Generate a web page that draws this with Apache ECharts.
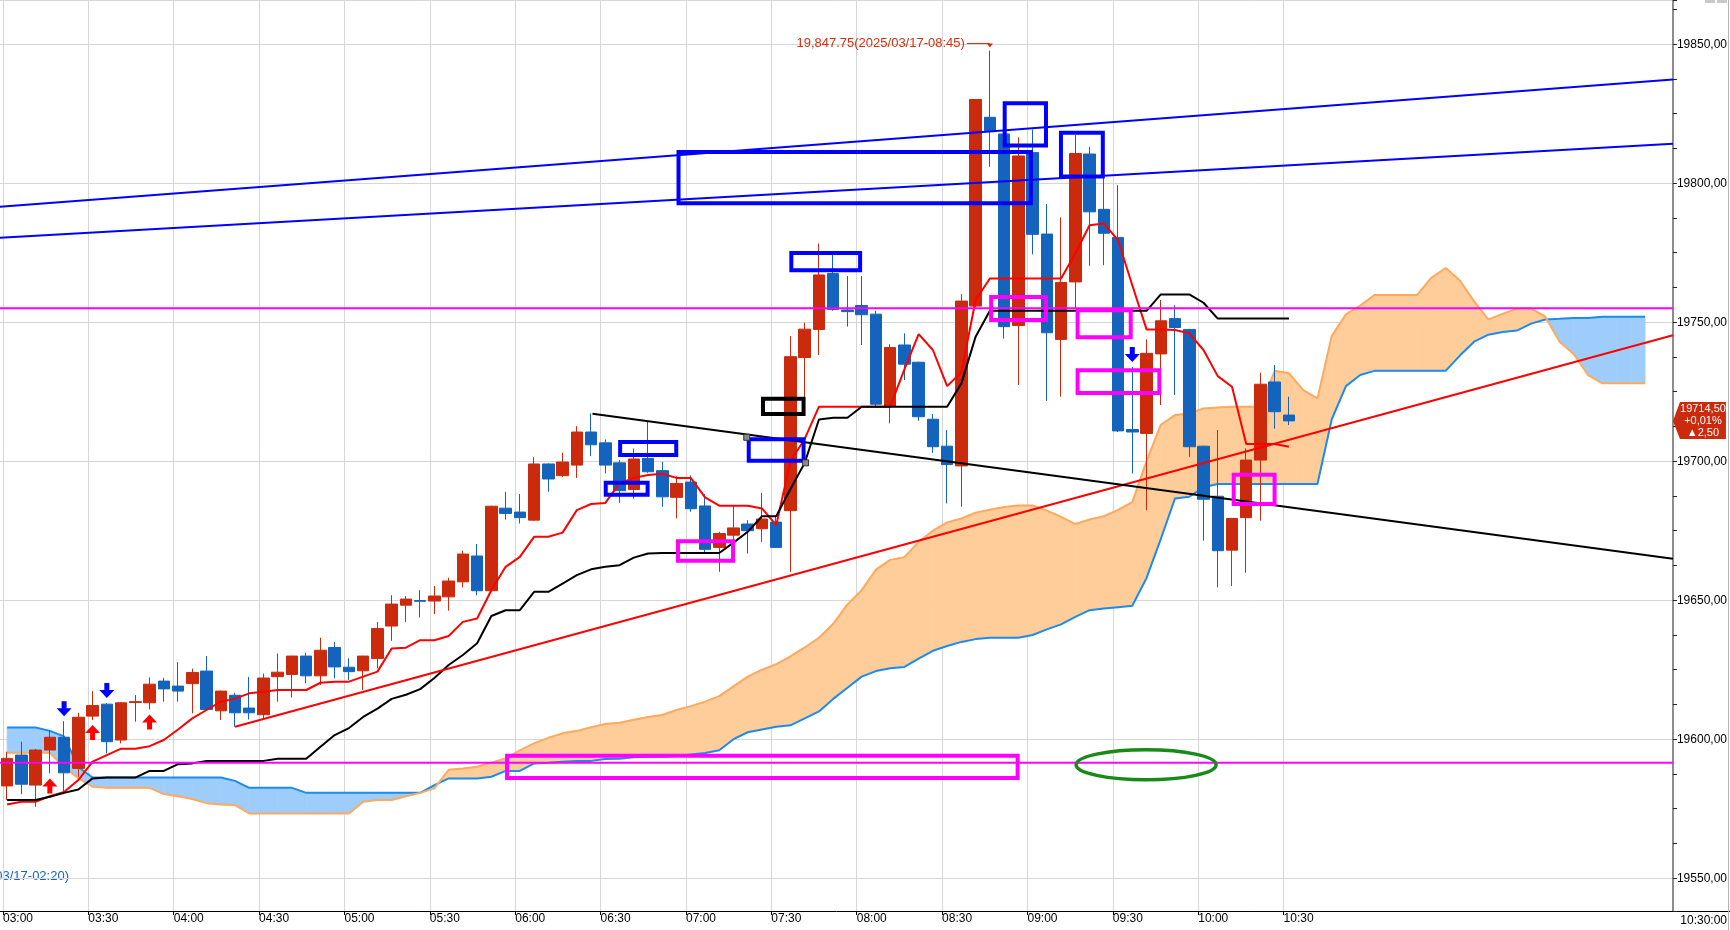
<!DOCTYPE html>
<html>
<head>
<meta charset="utf-8">
<title>5分足 一目均衡表</title>
<script src="https://cdn.jsdelivr.net/npm/echarts@6/dist/echarts.min.js"></script>
<style>
  html, body { margin: 0; padding: 0; background: #fff; }
  #chart { width: 1730px; height: 930px; }
</style>
</head>
<body>
<div id="chart"></div>
<script>
// x value = 5-minute slot counted from 03:00; candle k sits at k + 0.5
var timeLabels = ['03:00', '03:30', '04:00', '04:30', '05:00', '05:30', '06:00', '06:30',
  '07:00', '07:30', '08:00', '08:30', '09:00', '09:30', '10:00', '10:30'];

// [open, close, low, high]
var ohlc = [
  [19583.2, 19593.1, 19578.1, 19595.5], [19594.3, 19583.8, 19580.2, 19599.1], [19583.5, 19596.1, 19575.7, 19596.5],
  [19596.1, 19600.7, 19587.7, 19603.3], [19600.7, 19587.9, 19580.2, 19606.5], [19589.5, 19607.9, 19586.5, 19609.5],
  [19608.3, 19612.1, 19606.9, 19617.3], [19612.6, 19599.1, 19594.9, 19613.0], [19599.7, 19613.1, 19598.5, 19613.3],
  [19613.2, 19613.5, 19606.3, 19615.9], [19613.1, 19619.8, 19610.7, 19622.2], [19620.9, 19618.1, 19613.5, 19622.1],
  [19619.1, 19617.3, 19613.5, 19627.7], [19620.0, 19624.0, 19609.3, 19625.4], [19624.5, 19610.7, 19610.5, 19629.9],
  [19610.2, 19617.3, 19606.9, 19617.5], [19615.8, 19609.5, 19604.5, 19616.7], [19611.2, 19609.5, 19607.1, 19622.4],
  [19608.8, 19622.0, 19607.3, 19623.6], [19622.5, 19624.1, 19613.5, 19630.8], [19623.3, 19629.9, 19615.0, 19630.0],
  [19629.9, 19622.8, 19620.1, 19631.1], [19622.8, 19632.0, 19619.5, 19636.5], [19633.0, 19626.0, 19621.9, 19635.0],
  [19625.9, 19624.3, 19621.3, 19629.1], [19624.6, 19629.9, 19617.7, 19630.0], [19629.0, 19639.8, 19625.5, 19642.2],
  [19640.7, 19648.6, 19635.4, 19651.8], [19648.2, 19650.4, 19642.2, 19651.5], [19649.9, 19649.6, 19643.8, 19653.6],
  [19649.7, 19651.5, 19645.0, 19655.1], [19651.2, 19656.9, 19646.2, 19658.1], [19656.6, 19666.6, 19654.6, 19667.8],
  [19665.9, 19653.4, 19651.8, 19670.2], [19653.4, 19683.8, 19653.2, 19684.0], [19683.1, 19681.2, 19679.0, 19689.0],
  [19681.7, 19679.7, 19677.6, 19688.2], [19678.8, 19699.0, 19678.6, 19701.4], [19699.0, 19693.6, 19689.0, 19699.2],
  [19694.8, 19699.7, 19694.4, 19703.0], [19698.6, 19710.5, 19694.0, 19712.6], [19710.5, 19705.9, 19701.8, 19717.2],
  [19706.6, 19698.6, 19695.6, 19707.8], [19699.4, 19689.4, 19685.0, 19700.4], [19689.8, 19700.8, 19686.6, 19704.6],
  [19701.0, 19696.2, 19695.8, 19714.2], [19696.6, 19687.2, 19683.6, 19699.8], [19687.0, 19692.0, 19679.4, 19694.6],
  [19692.5, 19682.9, 19681.8, 19694.9], [19683.9, 19668.3, 19667.0, 19688.2], [19669.0, 19674.0, 19660.2, 19674.6],
  [19673.4, 19676.0, 19664.7, 19683.9], [19677.4, 19675.0, 19666.8, 19678.8], [19675.7, 19679.2, 19671.0, 19688.6],
  [19678.1, 19669.0, 19668.8, 19680.0], [19682.2, 19737.6, 19660.2, 19745.0], [19737.3, 19747.5, 19722.0, 19749.8],
  [19747.4, 19767.0, 19738.2, 19778.3], [19767.5, 19754.6, 19754.1, 19774.7], [19754.4, 19753.8, 19748.4, 19766.6],
  [19756.0, 19752.7, 19741.8, 19766.6], [19752.9, 19720.5, 19719.6, 19754.1], [19719.8, 19740.9, 19713.6, 19742.1],
  [19741.8, 19734.9, 19729.2, 19746.0], [19735.6, 19716.0, 19714.5, 19735.8], [19715.1, 19705.2, 19703.0, 19717.0],
  [19705.4, 19698.8, 19684.8, 19711.2], [19698.3, 19757.6, 19683.6, 19760.1], [19755.8, 19830.1, 19755.5, 19830.3],
  [19823.7, 19818.9, 19805.9, 19847.75], [19817.7, 19748.4, 19744.1, 19818.0], [19748.8, 19809.8, 19727.4, 19816.5],
  [19811.0, 19781.6, 19774.4, 19819.3], [19781.7, 19746.2, 19721.7, 19792.5], [19743.8, 19764.3, 19723.2, 19787.7],
  [19764.5, 19810.7, 19755.0, 19817.3], [19810.5, 19789.7, 19770.3, 19813.1], [19790.6, 19782.0, 19770.5, 19804.7],
  [19780.5, 19710.9, 19710.5, 19799.3], [19711.4, 19710.5, 19695.6, 19733.9], [19710.0, 19738.8, 19682.4, 19743.8],
  [19738.6, 19750.5, 19720.2, 19758.0], [19751.3, 19748.1, 19723.8, 19756.1], [19747.4, 19705.2, 19701.6, 19747.6],
  [19705.4, 19686.3, 19671.4, 19705.6], [19687.4, 19667.8, 19654.6, 19711.2], [19668.0, 19679.4, 19655.1, 19679.6],
  [19679.7, 19700.4, 19659.9, 19704.6], [19700.4, 19727.7, 19678.6, 19731.8], [19728.5, 19717.8, 19711.7, 19734.6],
  [19716.6, 19714.5, 19713.0, 19723.2]
];

var tenkan = [
  19576.5, 19577.5, 19577.5, 19579.5, 19581.0, 19585.3, 19591.9, 19594.3, 19596.6, 19596.6,
  19597.5, 19599.7, 19603.5, 19607.5, 19610.5, 19613.5, 19614.6, 19616.5, 19617.1, 19617.7,
  19617.7, 19617.7, 19620.3, 19620.7, 19620.7, 19622.5, 19624.3, 19632.6, 19632.9, 19635.6,
  19635.6, 19637.1, 19642.2, 19643.4, 19653.6, 19662.0, 19665.6, 19672.8, 19672.8, 19674.3,
  19682.4, 19684.6, 19685.0, 19692.0, 19694.0, 19695.0, 19695.5, 19694.0, 19694.0, 19687.0,
  19684.0, 19684.0, 19684.0, 19683.0, 19677.0, 19700.0, 19708.0, 19719.6, 19719.6, 19719.6,
  19719.6, 19719.6, 19719.6, 19733.0, 19745.7, 19740.0, 19727.0, 19732.0, 19758.0, 19765.7,
  19765.7, 19765.7, 19765.7, 19765.7, 19765.7, 19774.7, 19784.9, 19785.5, 19779.5, 19763.3,
  19747.4, 19747.4, 19747.2, 19746.0, 19740.0, 19730.6, 19726.8, 19706.2, 19706.2, 19706.2,
  19705.2
];

var kijun = [
  19578.1, 19578.1, 19578.1, 19579.3, 19580.7, 19581.9, 19585.9, 19586.2, 19586.2, 19586.2,
  19588.6, 19588.6, 19591.0, 19591.3, 19592.2, 19592.2, 19592.2, 19592.2, 19592.2, 19593.0,
  19593.0, 19593.0, 19597.3, 19601.5, 19604.0, 19608.0, 19611.0, 19614.5, 19616.0, 19618.0,
  19622.0, 19626.7, 19630.3, 19634.5, 19644.3, 19646.4, 19646.4, 19653.0, 19653.0, 19656.0,
  19659.0, 19661.1, 19662.0, 19662.6, 19665.3, 19666.8, 19667.0, 19667.0, 19667.0, 19667.0,
  19667.0, 19670.7, 19674.6, 19680.2, 19680.2, 19690.0, 19699.4, 19715.0, 19715.6, 19715.6,
  19719.6, 19719.6, 19719.6, 19719.6, 19719.6, 19719.6, 19719.6, 19728.0, 19744.8, 19754.1,
  19754.1, 19754.1, 19754.1, 19754.1, 19754.1, 19754.1, 19754.1, 19754.1, 19754.1, 19754.1,
  19754.1, 19760.0, 19760.0, 19760.0, 19757.0, 19751.3, 19751.3, 19751.3, 19751.3, 19751.3,
  19751.3
];

// leading spans, already shifted forward (index = slot)
var senkouA = [
  19604.2, 19604.2, 19604.2, 19603.0, 19601.0, 19590.0, 19586.2, 19586.2, 19586.2, 19586.2,
  19586.2, 19586.2, 19586.2, 19586.2, 19586.2, 19586.2, 19585.0, 19582.5, 19582.5, 19582.5,
  19582.5, 19580.7, 19580.7, 19580.7, 19580.7, 19580.7, 19580.7, 19580.7, 19580.7, 19580.7,
  19583.5, 19585.9, 19585.9, 19585.9, 19586.5, 19588.6, 19588.6, 19591.3, 19591.5, 19591.9,
  19592.2, 19592.2, 19592.9, 19593.0, 19593.5, 19593.7, 19593.7, 19594.0, 19594.5, 19595.0,
  19596.0, 19600.0, 19602.5, 19603.5, 19604.5, 19605.0, 19607.5, 19610.0, 19614.5, 19618.5,
  19622.5, 19624.5, 19625.5, 19626.0, 19629.0, 19631.8, 19633.5, 19635.0, 19636.0, 19636.5,
  19636.5, 19636.5, 19637.5, 19639.5, 19641.3, 19644.0, 19646.4, 19647.0, 19647.5, 19648.0,
  19658.0, 19672.0, 19686.6, 19687.2, 19690.6, 19691.8, 19691.8, 19691.8, 19691.8, 19691.8,
  19691.8, 19691.8, 19691.8, 19715.0, 19727.0, 19731.0, 19732.5, 19732.5, 19732.5, 19732.5,
  19732.5, 19732.5, 19738.0, 19743.0, 19745.5, 19746.5, 19747.0, 19749.5, 19751.0, 19751.2,
  19751.5, 19751.5, 19752.0, 19752.0, 19752.0, 19752.0
];

var senkouB = [
  19595.1, 19595.1, 19595.1, 19595.1, 19590.0, 19586.0, 19582.9, 19582.5, 19582.5, 19582.5,
  19582.5, 19580.3, 19579.5, 19578.5, 19577.0, 19576.5, 19576.3, 19573.3, 19573.3, 19573.3,
  19573.3, 19573.3, 19573.3, 19573.3, 19573.3, 19577.5, 19578.1, 19578.1, 19579.5, 19580.7,
  19582.3, 19589.0, 19589.5, 19590.1, 19591.5, 19593.1, 19596.0, 19598.5, 19600.5, 19602.1,
  19603.0, 19604.3, 19605.5, 19605.9, 19607.0, 19608.0, 19608.7, 19610.5, 19611.9, 19613.5,
  19615.5, 19619.0, 19622.5, 19625.0, 19627.0, 19629.8, 19633.0, 19636.5, 19641.5, 19648.5,
  19653.6, 19661.0, 19664.5, 19665.5, 19671.0, 19675.0, 19678.0, 19679.4, 19681.5, 19682.5,
  19683.5, 19684.1, 19684.1, 19682.2, 19680.0, 19677.4, 19679.0, 19680.2, 19682.5, 19685.3,
  19700.0, 19713.1, 19716.6, 19717.2, 19719.0, 19719.3, 19719.6, 19719.6, 19719.6, 19732.5,
  19731.6, 19725.6, 19722.6, 19745.0, 19752.8, 19756.0, 19759.8, 19759.8, 19759.8, 19759.8,
  19766.0, 19769.5, 19765.0, 19757.5, 19751.0, 19753.0, 19754.9, 19754.9, 19752.0, 19743.0,
  19738.5, 19731.0, 19728.0, 19728.0, 19728.0, 19728.0
];

var buySignals = [3, 6, 10];
var sellSignals = [4, 7, 79];

var highBar = 69;
var highLabel = '19,847.75(2025/03/17-08:45)';
var lowLabel = '19,571.50(2025/03/17-02:20)';
var tagLines = ['19714,50', '+0,01%', '\u25B22,50'];
var clockLabel = '10:30:00';

// hand drawn objects, end points as [slot, price]
var blueChannel = [
  [[0, 19791.5], [117.46, 19837.3]],
  [[0, 19780.4], [117.46, 19814.2]]
];
var redTrend = [[16.5, 19604.5], [117.46, 19745.3]];
var blackTrend = [[41.6, 19717.1], [117.46, 19664.9]];
var magentaLevels = [19755.0, 19591.5];

// boxes [slotLeft, priceTop, slotRight, priceBottom]
var blueBoxes = [
  [47.50, 19811.9, 72.52, 19792.05],
  [70.40, 19829.5, 73.58, 19812.8],
  [74.35, 19818.85, 77.57, 19801.7],
  [55.42, 19775.6, 60.53, 19768.0],
  [43.40, 19707.6, 47.62, 19701.5],
  [42.39, 19692.95, 45.61, 19687.2],
  [52.43, 19708.6, 56.56, 19699.4]
];
var magentaBoxes = [
  [35.46, 19594.8, 71.59, 19585.3],
  [47.46, 19671.9, 51.61, 19663.5],
  [69.45, 19759.75, 73.58, 19750.1],
  [75.52, 19755.0, 79.53, 19743.9],
  [75.52, 19733.4, 81.54, 19723.8],
  [86.48, 19695.8, 89.63, 19683.85]
];
var blackBoxes = [[53.43, 19723.2, 56.56, 19716.3]];
var selectedBox = 6;   // blueBoxes entry shown with its handles
// ellipse [slotCenter, priceCenter, halfWidthSlots, halfHeightPrice]
var greenEllipses = [[80.47, 19590.8, 5.02, 5.94]];

var X_MAX = 117.46;
var Y_MIN = 19538.2, Y_MAX = 19865.9;
var FONT = "'Liberation Sans', Arial, sans-serif";
var UP = '#cc2a0c', DOWN = '#1464be';

function slotSeries(arr) {
  return arr.map(function (v, i) { return [i + 0.5, v]; });
}

function renderCloud(params, api) {
  var x0 = api.value(0), a0 = api.value(1), b0 = api.value(2);
  var x1 = api.value(3), a1 = api.value(4), b1 = api.value(5);
  var pa0 = api.coord([x0, a0]), pb0 = api.coord([x0, b0]);
  var pa1 = api.coord([x1, a1]), pb1 = api.coord([x1, b1]);
  var d0 = a0 - b0, d1 = a1 - b1;
  function poly(pts, up) {
    var c = up ? '#9fcdfb' : '#ffcd9a';
    return { type: 'polygon', shape: { points: pts }, style: { fill: c, stroke: c, lineWidth: 0.8 } };
  }
  var kids = [];
  if (d0 * d1 < 0) {
    var t = d0 / (d0 - d1);
    var pc = api.coord([x0 + t * (x1 - x0), a0 + t * (a1 - a0)]);
    kids.push(poly([pa0, pc, pb0], d0 > 0));
    kids.push(poly([pc, pa1, pb1], d1 > 0));
  } else {
    kids.push(poly([pa0, pa1, pb1, pb0], d0 + d1 > 0));
  }
  return { type: 'group', children: kids };
}

function boxRenderer(color, lw) {
  return function (params, api) {
    var a = api.coord([api.value(0), api.value(1)]);
    var b = api.coord([api.value(2), api.value(3)]);
    var h = lw / 2;
    return {
      type: 'rect',
      shape: { x: a[0] + h, y: a[1] + h, width: b[0] - a[0] - lw, height: b[1] - a[1] - lw },
      style: { fill: 'none', stroke: color, lineWidth: lw }
    };
  };
}

function renderHandles(params, api) {
  var a = api.coord([api.value(0), api.value(1)]);
  var b = api.coord([api.value(2), api.value(3)]);
  var st = { fill: '#8a8a8a', stroke: '#333', lineWidth: 1 };
  return { type: 'group', children: [
    { type: 'rect', shape: { x: a[0] - 3, y: a[1] - 3, width: 6, height: 6 }, style: st },
    { type: 'rect', shape: { x: b[0] - 3, y: b[1] - 3, width: 6, height: 6 }, style: st }
  ] };
}

function renderEllipse(params, api) {
  var c = api.coord([api.value(0), api.value(1)]);
  var e = api.coord([api.value(0) + api.value(2), api.value(1) + api.value(3)]);
  return {
    type: 'ellipse',
    shape: { cx: c[0], cy: c[1], rx: Math.abs(e[0] - c[0]) - 1.5, ry: Math.abs(c[1] - e[1]) - 1.5 },
    style: { fill: 'none', stroke: '#178a17', lineWidth: 3.5 }
  };
}

function arrowRenderer(dir, color) {
  return function (params, api) {
    var p = api.coord([api.value(0), api.value(1)]);
    var cx = p[0], t = p[1] + dir * 5;
    var pts = [[cx, t], [cx + 7.5, t + dir * 8], [cx + 2.5, t + dir * 8], [cx + 2.5, t + dir * 15],
      [cx - 2.5, t + dir * 15], [cx - 2.5, t + dir * 8], [cx - 7.5, t + dir * 8]];
    return { type: 'polygon', shape: { points: pts }, style: { fill: color } };
  };
}

function renderHighMark(params, api) {
  var p = api.coord([api.value(0), api.value(1)]);
  var y = p[1] - 7, c = '#d0300e';
  return { type: 'group', children: [
    { type: 'line', shape: { x1: p[0] - 23, y1: y, x2: p[0], y2: y }, style: { stroke: c, lineWidth: 1 } },
    { type: 'polygon', shape: { points: [[p[0] - 3, y], [p[0] + 3, y], [p[0], y + 4]] }, style: { fill: c } },
    { type: 'text', x: p[0] - 25, y: y, style: { text: highLabel, fill: c, align: 'right', verticalAlign: 'middle', font: '13px ' + FONT } }
  ] };
}

function renderPriceTag(params, api) {
  var y = api.coord([api.value(0), api.value(1)])[1];
  var x0 = params.coordSys.x + params.coordSys.width;
  var f = '11px ' + FONT;
  var pts = [[x0, y], [x0 + 7, y - 19], [x0 + 53, y - 19], [x0 + 53, y + 18], [x0 + 7, y + 18]];
  return { type: 'group', children: [
    { type: 'polygon', shape: { points: pts }, style: { fill: '#cc2a0c' } },
    { type: 'text', x: x0 + 30, y: y - 12, style: { text: tagLines[0], fill: '#fff', align: 'center', verticalAlign: 'middle', font: f } },
    { type: 'text', x: x0 + 30, y: y, style: { text: tagLines[1], fill: '#fff', align: 'center', verticalAlign: 'middle', font: f } },
    { type: 'text', x: x0 + 30, y: y + 12, style: { text: tagLines[2], fill: '#fff', align: 'center', verticalAlign: 'middle', font: f } }
  ] };
}

function lineSeries(name, data, color, width, z) {
  return {
    name: name, type: 'line', data: data, symbol: 'none', z: z,
    lineStyle: { color: color, width: width }, silent: true
  };
}

var cloudSegs = [];
for (var i = 0; i < senkouA.length - 1; i++) {
  cloudSegs.push([i + 0.5, senkouA[i], senkouB[i], i + 1.5, senkouA[i + 1], senkouB[i + 1]]);
}

var series = [
  { name: 'cloud', type: 'custom', renderItem: renderCloud, data: cloudSegs, z: 1, silent: true,
    encode: { x: [0, 3], y: [1, 2, 4, 5] } },
  lineSeries('先行スパン1', slotSeries(senkouA), '#1a8cf0', 2, 2),
  lineSeries('先行スパン2', slotSeries(senkouB), '#ffa95e', 2, 2),
  {
    name: '5分足', type: 'candlestick', z: 3, barWidth: 12,
    data: ohlc.map(function (r, i) { return [i + 0.5, r[0], r[1], r[2], r[3]]; }),
    encode: { x: 0, y: [1, 2, 3, 4] },
    itemStyle: { color: UP, color0: DOWN, borderColor: UP, borderColor0: DOWN, borderWidth: 1 }
  },
  lineSeries('転換線', slotSeries(tenkan), '#ff0000', 2, 4),
  lineSeries('基準線', slotSeries(kijun), '#000000', 2, 4),
  lineSeries('ch1', blueChannel[0], '#0000ff', 2, 5),
  lineSeries('ch2', blueChannel[1], '#0000ff', 2, 5),
  lineSeries('redTrend', redTrend, '#ff0000', 2, 5),
  lineSeries('blackTrend', blackTrend, '#000000', 2, 5)
];
magentaLevels.forEach(function (p, i) {
  series.push(lineSeries('level' + i, [[0, p], [X_MAX, p]], '#ff00ff', 2, 5));
});
series.push(
  { name: 'blueBoxes', type: 'custom', renderItem: boxRenderer('#0000ff', 4), data: blueBoxes, z: 6, silent: true },
  { name: 'magentaBoxes', type: 'custom', renderItem: boxRenderer('#ff00ff', 4), data: magentaBoxes, z: 6, silent: true },
  { name: 'blackBoxes', type: 'custom', renderItem: boxRenderer('#000000', 4), data: blackBoxes, z: 6, silent: true },
  { name: 'handles', type: 'custom', renderItem: renderHandles, data: [blueBoxes[selectedBox]], z: 7, silent: true },
  { name: 'ellipse', type: 'custom', renderItem: renderEllipse, data: greenEllipses, z: 6, silent: true },
  { name: 'buy', type: 'custom', renderItem: arrowRenderer(1, '#ff0000'), z: 7, silent: true,
    data: buySignals.map(function (k) { return [k + 0.5, ohlc[k][2]]; }) },
  { name: 'sell', type: 'custom', renderItem: arrowRenderer(-1, '#0000ff'), z: 7, silent: true,
    data: sellSignals.map(function (k) { return [k + 0.5, ohlc[k][3]]; }) },
  { name: 'high', type: 'custom', renderItem: renderHighMark, z: 8, silent: true,
    data: [[highBar + 0.5, ohlc[highBar][3]]] },
  { name: 'tag', type: 'custom', renderItem: renderPriceTag, z: 9, silent: true, clip: false,
    data: [[ohlc.length - 0.5, ohlc[ohlc.length - 1][1]]] }
);

var chart = echarts.init(document.getElementById('chart'));
chart.setOption({
  animation: false,
  backgroundColor: '#ffffff',
  textStyle: { fontFamily: FONT },
  grid: [
    { left: -2.5, right: 54, top: 0, bottom: 19 },
    { left: -2.5, top: 0, bottom: 19, width: 90 * 14.29 }
  ],
  xAxis: [
    { gridIndex: 0, type: 'value', min: 0, max: X_MAX,
      axisLine: { show: true, onZero: false, lineStyle: { color: '#000', width: 1 } },
      axisTick: { show: false }, axisLabel: { show: false }, splitLine: { show: false } },
    { gridIndex: 1, type: 'value', min: 0, max: (timeLabels.length - 1) * 6, interval: 6,
      axisLine: { show: false, onZero: false },
      axisTick: { show: true, length: 4, lineStyle: { color: '#000' } },
      axisLabel: {
        align: 'left', margin: 2, color: '#000', fontSize: 12, fontFamily: FONT,
        formatter: function (v) { return timeLabels[Math.round(v / 6)] || ''; }
      },
      splitLine: { show: true, lineStyle: { color: '#d6d6d6', width: 1 } } }
  ],
  yAxis: [
    { gridIndex: 0, type: 'value', position: 'right', min: Y_MIN, max: Y_MAX, splitNumber: 6,
      axisLine: { show: true, onZero: false, lineStyle: { color: '#8c8c8c', width: 2 } },
      axisTick: { show: true, length: 4, lineStyle: { color: '#222' } },
      minorTick: { show: true, splitNumber: 4, length: 4, lineStyle: { color: '#222' } },
      axisLabel: {
        margin: 4, color: '#000', fontSize: 12, fontFamily: FONT, showMinLabel: false, showMaxLabel: false,
        formatter: function (v) { return v.toFixed(2).replace('.', ','); }
      },
      splitLine: { show: true, lineStyle: { color: '#d6d6d6', width: 1 } } },
    { gridIndex: 1, type: 'value', min: Y_MIN, max: Y_MAX, show: false,
      axisLine: { show: false, onZero: false }, axisTick: { show: false }, minorTick: { show: false },
      axisLabel: { show: false }, splitLine: { show: false } }
  ],
  series: series,
  graphic: [
    { type: 'line', shape: { x1: 1676, y1: 911.5, x2: 1730, y2: 911.5 }, style: { stroke: '#000', lineWidth: 1 } },
    { type: 'line', shape: { x1: 1728.5, y1: 0, x2: 1728.5, y2: 930 }, style: { stroke: '#b4b4b4', lineWidth: 1 } },
    { type: 'rect', shape: { x: 1705, y: 0, width: 10, height: 3 }, style: { fill: '#c8c8c8' } },
    { type: 'rect', shape: { x: 1717, y: 0, width: 10, height: 3 }, style: { fill: '#c8c8c8' } },
    { type: 'text', x: 1727, y: 921, style: { text: clockLabel, fill: '#000', align: 'right', verticalAlign: 'middle', font: '12px ' + FONT } },
    { type: 'text', x: 69, y: 876, style: { text: lowLabel, fill: '#1464c8', align: 'right', verticalAlign: 'middle', font: '13px ' + FONT } }
  ]
});
</script>
</body>
</html>
